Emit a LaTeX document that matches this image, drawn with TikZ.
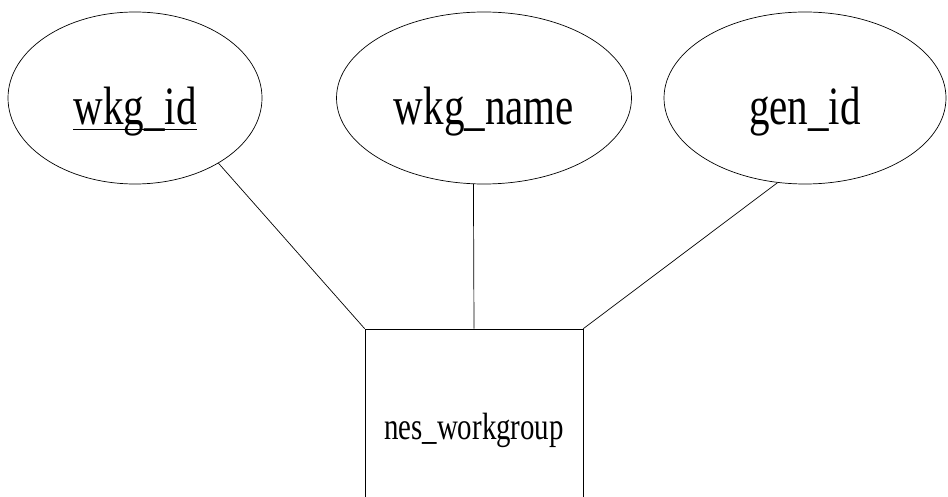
\documentclass[tikz,border=0pt]{standalone}
\usepackage{fontspec}
\setmainfont[FakeStretch=0.76]{Liberation Serif}
\usetikzlibrary{shapes.geometric}
\newsavebox{\keybox}
\newcommand{\keyline}[1]{\sbox{\keybox}{#1}\rlap{\rule[-5.4pt]{\wd\keybox}{1.4pt}}\usebox{\keybox}}

\begin{document}
\begin{tikzpicture}[x=1pt,y=-1pt,
  attr/.style={draw,ellipse,line width=0.7pt,inner sep=0pt,text height=54pt,text depth=0pt,font=\fontsize{54}{60}\selectfont},
  entity/.style={draw,rectangle,line width=0.7pt,minimum width=218pt,minimum height=192pt,text height=28pt,text depth=0pt,font=\fontsize{38}{44}\selectfont},
  link/.style={line width=0.7pt}]
\useasboundingbox (0,0) rectangle (948,497);
% attributes
\node[attr,minimum width=254pt,minimum height=172pt] (wid) at (135,98) {\keyline{wkg\_id}};
\node[attr,minimum width=295pt,minimum height=172pt] (wname) at (484,98) {wkg\_name};
\node[attr,minimum width=282pt,minimum height=172pt] (gid) at (805,98) {gen\_id};
% entity
\node[entity] (wg) at (474,425) {nes\_workgroup};
\draw[link] (wid.-38) -- (wg.north west);
\draw[link] (wname.-97) -- (wg.north);
\draw[link] (gid.-108) -- (wg.north east);
\end{tikzpicture}
\end{document}
